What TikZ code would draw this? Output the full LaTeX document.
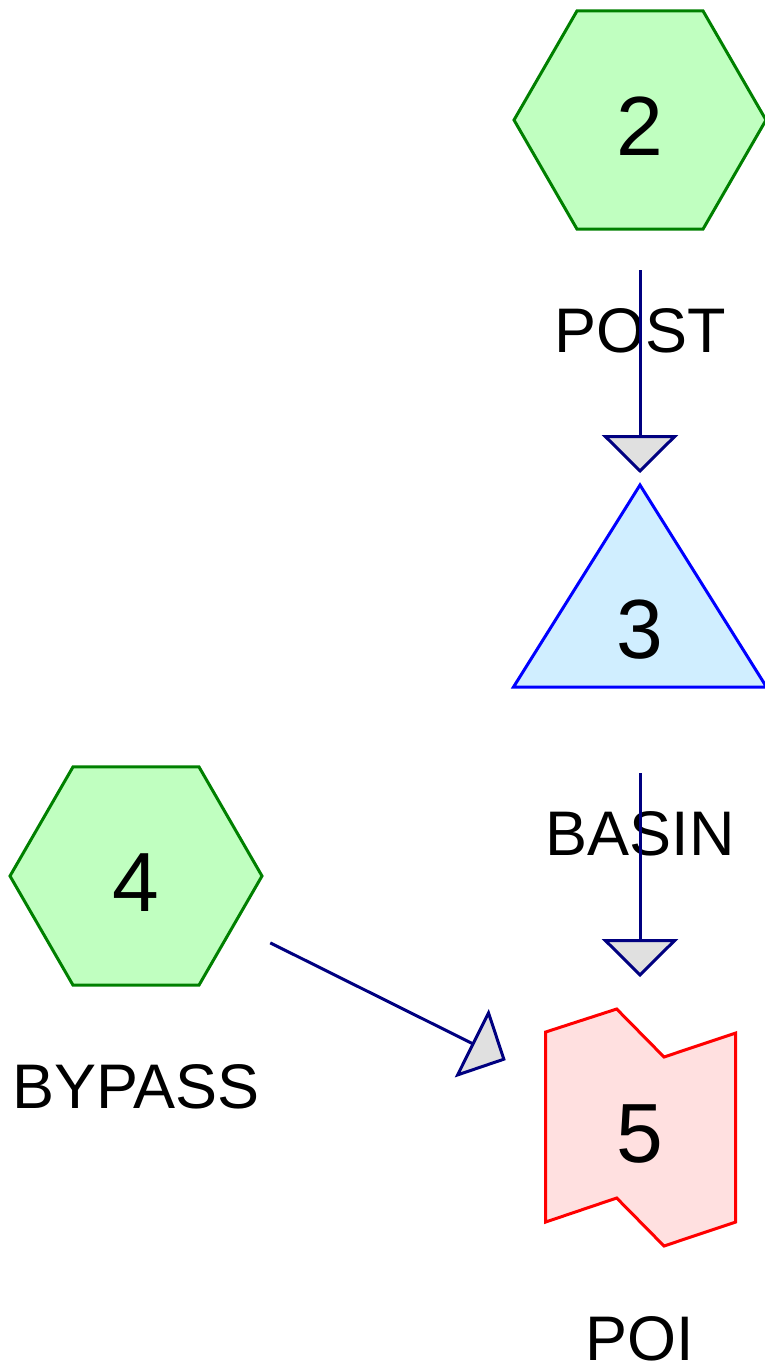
\documentclass[tikz,border=0pt]{standalone}
\usepackage{fontspec}
\setmainfont{Liberation Sans}
\usetikzlibrary{calc}
\usetikzlibrary{shapes.geometric}
\usetikzlibrary{arrows.meta}
\usetikzlibrary{backgrounds}
\definecolor{hexfill}{HTML}{C0FFC0}
\definecolor{hexline}{HTML}{008000}
\definecolor{trifill}{HTML}{D0EEFF}
\definecolor{triline}{HTML}{0000FF}
\definecolor{poifill}{HTML}{FFE0E0}
\definecolor{poiline}{HTML}{FF0000}
\definecolor{flowline}{HTML}{000080}
\definecolor{tipfill}{HTML}{E0E0E0}
\tikzset{num/.style={inner sep=0pt, text height=70pt, text depth=0pt, font=\fontsize{84}{100}\selectfont}}
\tikzset{hexnode/.style={num, regular polygon, regular polygon sides=6, minimum size=252pt, draw=hexline, fill=hexfill, line width=3pt}}
\tikzset{lbl/.style={anchor=base, inner sep=0pt, font=\fontsize{63}{75}\selectfont}}
\tikzset{flow/.style={draw=flowline, line width=3pt, shorten <=150pt, shorten >=150pt, -{Triangle[length=38pt,width=76pt,fill=tipfill]}}}

\begin{document}
\begin{tikzpicture}[x=1pt,y=-1pt]
\useasboundingbox (0,0) rectangle (764,1368);
\node[hexnode] (n2) at (640,120) {2};
\node[num] (n3) at (640,623) {3};
\node[hexnode] (n4) at (136,876) {4};
\node[num] (n5) at (640,1127) {5};
\begin{scope}[on background layer]
\draw[draw=triline, fill=trifill, line width=3pt] ($(n3)+(0,-138)$) -- ($(n3)+(126.5,64)$) -- ($(n3)+(-126.5,64)$) -- cycle;
\draw[draw=poiline, fill=poifill, line width=3pt] ($(n5)+(-94.3,-95)$) -- ($(n5)+(-23.3,-118)$) -- ($(n5)+(24,-70)$) -- ($(n5)+(95.7,-94)$)
  -- ($(n5)+(95.7,95)$) -- ($(n5)+(24,119)$) -- ($(n5)+(-23.3,71)$) -- ($(n5)+(-94.3,95)$) -- cycle;
\end{scope}
\node[lbl] (post) at ($(n2)+(0,232)$) {POST};
\node[lbl] (basin) at ($(n3)+(0,232)$) {BASIN};
\node[lbl] (bypass) at ($(n4)+(0,232)$) {BYPASS};
\node[lbl] (poi) at ($(n5)+(0,233)$) {POI};
\draw[flow] (n2.center) -- (n3.center);
\draw[flow] (n3.center) -- (n5.center);
\draw[flow] (n4.center) -- (n5.center);
\end{tikzpicture}
\end{document}
